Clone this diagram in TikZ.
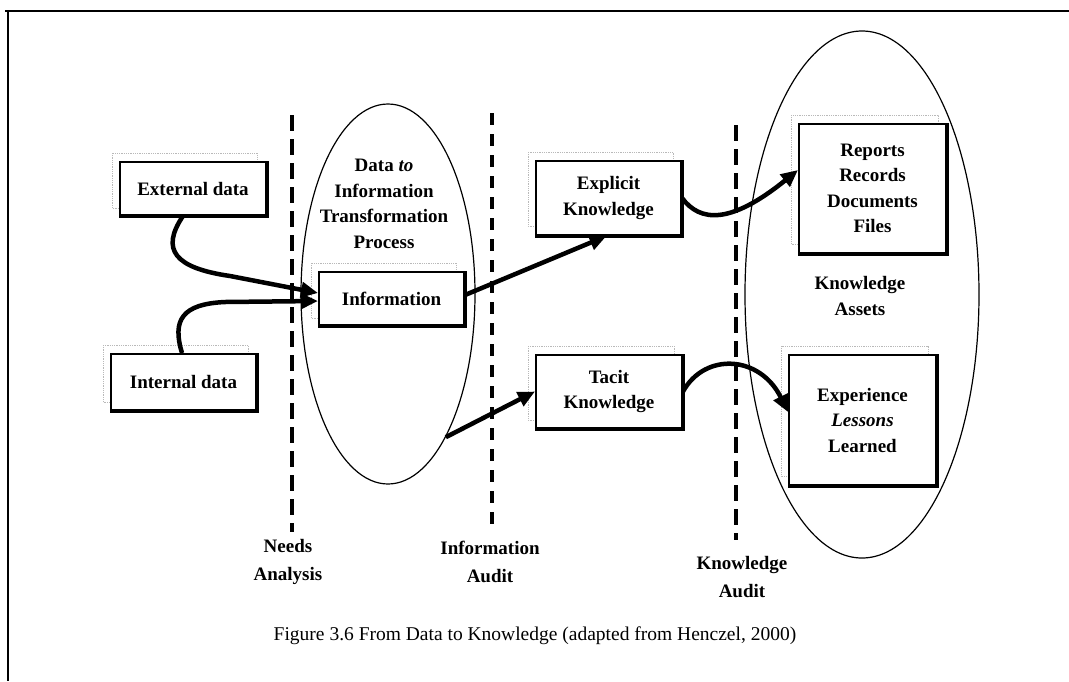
\documentclass[tikz,border=0pt]{standalone}
\usepackage{fontspec}
\setmainfont{Liberation Serif}
\usetikzlibrary{arrows.meta,shapes.geometric}
\begin{document}
\begin{tikzpicture}[x=1pt,y=-1pt,
  box/.style={draw, line width=2pt, fill=white, inner sep=0pt, align=center,
    font=\fontsize{19}{25.5}\selectfont\bfseries},
  lbl/.style={align=center, font=\fontsize{19}{27.5}\selectfont\bfseries},
  ghost/.style={draw=gray!55, densely dotted, line width=0.8pt},
  audit/.style={line width=4pt, dash pattern=on 16pt off 8pt},
  flow/.style={line width=4.5pt, -{Triangle[length=17pt,width=15pt]}},
  region/.style={draw, ellipse, line width=1.2pt, inner sep=0pt}
]
\useasboundingbox (0,0) rectangle (1069,681);

% page frame
\draw[line width=2pt] (5,11) -- (1069,11);
\draw[line width=1.5pt] (8,11) -- (8,681);

% process regions
\node[region, minimum width=174pt, minimum height=380pt] (proc) at (388,294) {};
\node[region, minimum width=234pt, minimum height=527pt] (assets) at (862,294.5) {};

% audit boundaries
\coordinate (na1) at (292,115); \coordinate (na2) at (292,532);
\coordinate (ia1) at (492,113); \coordinate (ia2) at (492,532);
\coordinate (ka1) at (736,125); \coordinate (ka2) at (736,540);
\draw[audit] (na1) -- (na2);
\draw[audit, line width=3.2pt, dash pattern=on 12pt off 9pt] (ia1) -- (ia2);
\draw[audit] (ka1) -- (ka2);

% dotted ghost outlines behind the boxes
\draw[ghost] (112,153) rectangle (257,208);
\draw[ghost] (103,345) rectangle (248,402);
\draw[ghost] (311,263) rectangle (456,318);
\draw[ghost] (528,152) rectangle (673,226);
\draw[ghost] (528,346) rectangle (674,420);
\draw[ghost] (791,115) rectangle (938,244);
\draw[ghost] (781,346) rectangle (928,476);

% boxes
\node[box, minimum width=146pt, minimum height=53pt] (ext) at (193,188.5) {External data};
\node[box, minimum width=145pt, minimum height=56pt] (int) at (183.5,382) {Internal data};
\node[box, minimum width=145pt, minimum height=53pt] (info) at (391.5,298.5) {Information};
\node[box, minimum width=145pt, minimum height=74pt] (expl) at (608.5,198) {Explicit\\Knowledge};
\node[box, minimum width=146pt, minimum height=73pt] (tacit) at (609,391.5) {Tacit\\Knowledge};
\node[box, minimum width=147pt, minimum height=129pt] (rep) at (872.5,188.5) {Reports\\Records\\Documents\\Files};
\node[box, minimum width=147pt, minimum height=130pt] (exp) at (862.5,420) {Experience\\\textit{Lessons}\\Learned};

% heavier lower and right edges
\foreach \n in {ext,int,info,expl,tacit,rep,exp}
  \draw[line width=3pt] (\n.north east) -- (\n.south east) -- (\n.south west);

% region and boundary labels
\node[lbl, font=\fontsize{19}{25.5}\selectfont\bfseries] (proclbl) at (384,204) {Data \textit{to}\\Information\\Transformation\\Process};
\node[lbl, font=\fontsize{19}{25.5}\selectfont\bfseries] (assetslbl) at (860,296) {Knowledge\\Assets};
\node[lbl] (nalbl) at (288,562) {Needs\\Analysis};
\node[lbl] (ialbl) at (490,562) {Information\\Audit};
\node[lbl] (kalbl) at (742,577) {Knowledge\\Audit};

% flows
\draw[flow] ([xshift=-10pt]ext.south) .. controls (160,250) and (175,268) .. (230,276) -- ([yshift=5.5pt]info.west);
\draw[flow] ([xshift=-1.5pt]int.north) .. controls (172,320) and (182,304) .. (225,302) -- ([yshift=-2.5pt]info.west);
\draw[flow] ([yshift=3.5pt]info.east) -- ([xshift=-2pt]expl.south);
\draw[flow] (proc.-68) -- (tacit.west);
\draw[flow] (expl.east) .. controls (700,222) and (730,225) .. ([yshift=18.5pt]rep.west);
\draw[flow] (tacit.east) .. controls (705,352) and (760,355) .. ([yshift=8pt]exp.west);

% caption
\node[font=\fontsize{19.5}{23}\selectfont] (cap) at (535,636) {Figure 3.6 From Data to Knowledge (adapted from Henczel, 2000)};
\end{tikzpicture}
\end{document}
